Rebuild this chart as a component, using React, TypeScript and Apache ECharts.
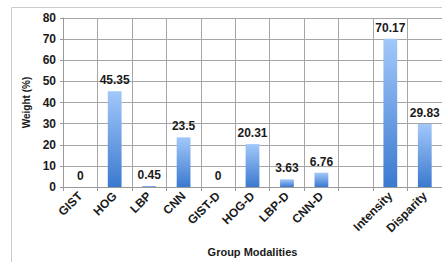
import React, { useEffect, useRef } from "react";
import * as echarts from "echarts";

const categories = ["GIST", "HOG", "LBP", "CNN", "GIST-D", "HOG-D", "LBP-D", "CNN-D", "", "Intensity", "Disparity"];
const weights: (number | null)[] = [0, 45.35, 0.45, 23.5, 0, 20.31, 3.63, 6.76, null, 70.17, 29.83];
const yTicks = { min: 0, max: 80, interval: 10 };

export default function App() {
  const ref = useRef<HTMLDivElement>(null);
  useEffect(() => {
    if (!ref.current) return;
    const chart = echarts.init(ref.current, undefined, { renderer: "svg" });
    const font = "Liberation Sans, Arial, sans-serif";
    chart.setOption({
      animation: false,
      backgroundColor: "#ffffff",
      graphic: [
        {
          type: "polyline",
          silent: true,
          shape: { points: [[11.5, 262], [11.5, 7.5], [442, 7.5]] },
          style: { fill: null, stroke: "#cccccc", lineWidth: 1 },
        },
      ],
      grid: { left: 63, top: 18, width: 381, height: 170 },
      xAxis: {
        type: "category",
        data: categories,
        name: "Group Modalities",
        nameLocation: "middle",
        nameGap: 59,
        nameTextStyle: { fontFamily: font, fontWeight: "bold", fontSize: 11, color: "#1a1a1a" },
        axisLine: { show: true, lineStyle: { color: "#999999", width: 1 } },
        axisTick: { show: true, length: 4, alignWithLabel: false, lineStyle: { color: "#999999", width: 1 } },
        splitLine: { show: true, interval: 0, lineStyle: { color: "#a6a6a6", width: 1, type: "solid" } },
        axisLabel: {
          interval: 0,
          rotate: 45,
          margin: 7,
          fontFamily: font,
          fontWeight: "bold",
          fontSize: 12,
          color: "#1a1a1a",
        },
      },
      yAxis: {
        type: "value",
        min: yTicks.min,
        max: yTicks.max,
        interval: yTicks.interval,
        name: "Weight (%)",
        nameLocation: "middle",
        nameGap: 31,
        nameTextStyle: { fontFamily: font, fontWeight: "bold", fontSize: 10, color: "#1a1a1a" },
        axisLine: { show: true, lineStyle: { color: "#999999", width: 1 } },
        axisTick: { show: true, length: 3, lineStyle: { color: "#999999", width: 1 } },
        splitLine: { show: true, lineStyle: { color: "#a6a6a6", width: 1, type: "solid" } },
        axisLabel: {
          margin: 7,
          fontFamily: font,
          fontWeight: "bold",
          fontSize: 12,
          color: "#1a1a1a",
        },
      },
      series: [
        {
          type: "bar",
          data: weights.map((v) => (v === null ? "-" : v)),
          barWidth: "40%",
          itemStyle: {
            color: new echarts.graphic.LinearGradient(0, 0, 0, 1, [
              { offset: 0, color: "#a2c8fa" },
              { offset: 1, color: "#3b79cf" },
            ]),
          },
          label: {
            show: true,
            position: "top",
            distance: 5,
            fontFamily: font,
            fontWeight: "bold",
            fontSize: 12,
            color: "#1a1a1a",
            formatter: (p: any) => (p.value === "-" || p.value == null ? "" : String(p.value)),
          },
        },
      ],
    });
    return () => chart.dispose();
  }, []);
  return (
    <div
      ref={ref}
      style={{ position: "fixed", left: 0, top: 0, width: 442, height: 262 }}
    />
  );
}
